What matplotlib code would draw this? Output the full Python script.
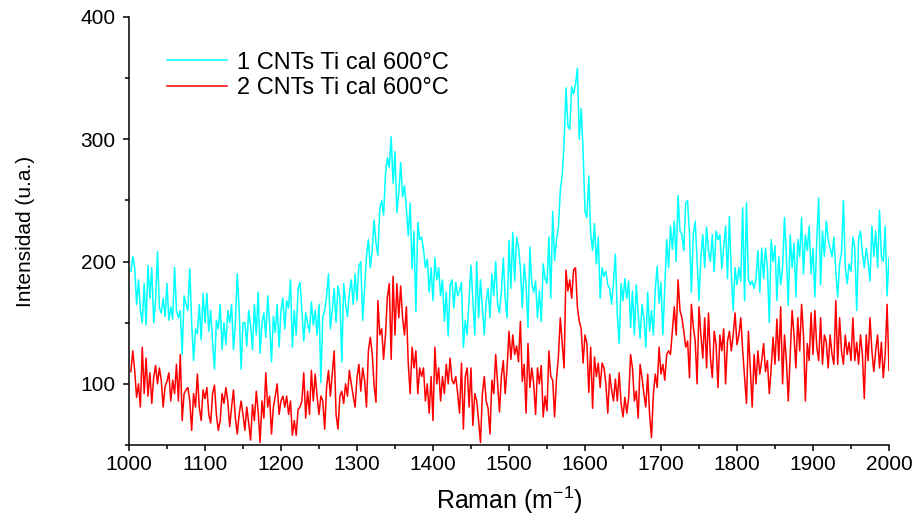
import matplotlib
matplotlib.use("Agg")
import matplotlib.pyplot as plt
from matplotlib import font_manager
from matplotlib.ticker import MultipleLocator
import numpy as np

# intensities, one value every 2.5 cm-1 from 1002.5 to 2000
cnt1 = [
    192, 204, 195, 165, 185, 160, 150, 182, 148, 197, 170, 195, 150, 168, 208, 162, 158, 170, 155, 182,
    152, 163, 153, 195, 160, 154, 160, 124, 172, 165, 160, 194, 150, 119, 145, 141, 165, 136, 174, 150,
    174, 143, 160, 134, 112, 152, 145, 165, 128, 150, 132, 160, 150, 165, 128, 150, 190, 160, 112, 150,
    150, 131, 160, 148, 128, 165, 140, 175, 125, 150, 158, 138, 172, 150, 118, 155, 142, 165, 130, 160,
    170, 145, 168, 162, 185, 130, 160, 140, 178, 183, 160, 135, 158, 150, 142, 167, 148, 160, 140, 165,
    101, 155, 160, 172, 190, 145, 160, 178, 150, 180, 170, 118, 182, 165, 155, 175, 185, 165, 190, 168,
    196, 200, 152, 178, 204, 218, 195, 209, 234, 215, 205, 243, 250, 238, 271, 285, 277, 302, 264, 290,
    240, 256, 281, 253, 262, 243, 221, 248, 194, 225, 159, 232, 218, 220, 210, 195, 202, 175, 195, 168,
    203, 185, 195, 172, 185, 151, 175, 139, 180, 185, 162, 183, 172, 176, 183, 130, 152, 140, 170, 197,
    168, 140, 200, 154, 185, 163, 140, 168, 178, 154, 190, 172, 200, 165, 158, 176, 203, 170, 154, 217,
    178, 224, 184, 220, 212, 195, 162, 198, 180, 146, 212, 182, 175, 184, 154, 176, 151, 198, 186, 182,
    220, 170, 241, 201, 218, 228, 258, 270, 297, 342, 311, 308, 343, 337, 345, 358, 300, 325, 291, 241,
    236, 270, 223, 209, 231, 198, 220, 170, 195, 188, 192, 181, 178, 165, 183, 206, 157, 133, 182, 168,
    186, 170, 184, 146, 176, 140, 181, 157, 137, 165, 154, 130, 175, 143, 160, 140, 178, 196, 166, 183,
    140, 178, 218, 195, 229, 210, 233, 200, 254, 225, 222, 209, 248, 250, 222, 175, 222, 233, 200, 168,
    204, 222, 195, 228, 209, 200, 222, 192, 225, 218, 222, 194, 212, 229, 186, 237, 190, 160, 195, 181,
    195, 184, 244, 168, 248, 186, 181, 184, 178, 186, 209, 175, 211, 186, 211, 195, 150, 218, 200, 213,
    168, 204, 181, 195, 236, 204, 164, 222, 195, 215, 171, 218, 204, 236, 190, 222, 209, 229, 190, 211,
    171, 218, 252, 181, 225, 204, 233, 218, 211, 204, 220, 192, 171, 198, 207, 250, 195, 182, 198, 192,
    220, 211, 160, 218, 225, 207, 195, 211, 200, 184, 229, 204, 225, 195, 242, 204, 200, 229, 172, 203,
]

cnt2 = [
    110, 127, 111, 89, 100, 81, 130, 92, 121, 90, 109, 84, 105, 115, 100, 113, 103, 81, 98, 102,
    109, 86, 103, 92, 116, 86, 124, 70, 92, 95, 97, 86, 62, 92, 81, 108, 81, 70, 95, 88,
    97, 75, 68, 92, 99, 75, 62, 70, 92, 84, 97, 86, 65, 81, 95, 72, 59, 75, 86, 75,
    62, 81, 68, 54, 83, 70, 94, 77, 52, 86, 72, 109, 81, 90, 59, 81, 90, 100, 75, 86,
    90, 81, 90, 75, 86, 58, 70, 58, 79, 81, 86, 109, 72, 94, 75, 111, 86, 108, 90, 75,
    90, 86, 63, 97, 111, 90, 108, 127, 75, 63, 90, 94, 84, 100, 90, 111, 100, 90, 81, 105,
    116, 94, 113, 103, 81, 127, 138, 125, 99, 85, 168, 140, 145, 120, 140, 171, 182, 120, 188, 140,
    182, 154, 180, 154, 140, 163, 116, 92, 130, 113, 127, 92, 113, 106, 113, 86, 100, 76, 106, 70,
    130, 100, 113, 86, 106, 92, 116, 100, 121, 103, 100, 106, 92, 76, 117, 63, 106, 113, 81, 113,
    66, 92, 86, 70, 52, 92, 106, 86, 80, 59, 103, 92, 124, 100, 77, 106, 119, 92, 113, 143,
    120, 140, 124, 131, 118, 151, 102, 116, 76, 133, 97, 113, 100, 75, 113, 100, 115, 73, 90, 78,
    127, 106, 103, 73, 104, 122, 154, 133, 113, 193, 176, 185, 170, 193, 195, 163, 151, 145, 117, 140,
    133, 93, 130, 80, 122, 106, 117, 97, 117, 113, 100, 76, 108, 95, 86, 104, 86, 109, 84, 73,
    89, 76, 89, 124, 113, 86, 94, 72, 116, 105, 92, 81, 108, 75, 56, 92, 108, 97, 130, 108,
    116, 103, 124, 127, 124, 143, 163, 140, 185, 160, 154, 143, 130, 135, 105, 165, 147, 135, 100, 163,
    140, 121, 154, 113, 158, 122, 105, 143, 132, 97, 140, 127, 145, 100, 135, 143, 127, 140, 158, 132,
    140, 154, 127, 105, 84, 143, 113, 81, 124, 100, 127, 108, 119, 133, 110, 119, 92, 113, 138, 116,
    153, 119, 163, 100, 140, 119, 86, 124, 160, 140, 113, 154, 127, 165, 140, 86, 133, 119, 158, 124,
    160, 130, 119, 154, 116, 140, 134, 113, 140, 124, 116, 168, 116, 154, 127, 116, 140, 124, 134, 119,
    154, 119, 134, 116, 140, 124, 88, 140, 119, 154, 127, 110, 127, 140, 113, 134, 105, 124, 165, 111,
]

labels = ["1 CNTs Ti cal 600°C", "2 CNTs Ti cal 600°C"]
x_start = 1002.5
x_step = 2.5


def has_font(name):
    try:
        font_manager.findfont(font_manager.FontProperties(family=name),
                              fallback_to_default=False)
        return True
    except ValueError:
        return False


main_font = "Liberation Sans"
narrow_font = "Liberation Sans Narrow" if has_font("Liberation Sans Narrow") else main_font
ylab_size = 17 if narrow_font != main_font else 15

plt.rcParams["font.family"] = [main_font, "DejaVu Sans"]
plt.rcParams["mathtext.default"] = "regular"

x1 = x_start + x_step * np.arange(len(cnt1))
x2 = x_start + x_step * np.arange(len(cnt2))

fig = plt.figure(figsize=(9.18, 5.16), dpi=100)
ax = fig.add_axes([0.1405, 0.1376, 0.8279, 0.8295])

ax.plot(x1, cnt1, color="#00FFFF", lw=1.1, label=labels[0])
ax.plot(x2, cnt2, color="#FF0000", lw=1.1, label=labels[1])

ax.set_xlim(1000, 2000)
ax.set_ylim(50, 400)
ax.xaxis.set_major_locator(MultipleLocator(100))
ax.xaxis.set_minor_locator(MultipleLocator(50))
ax.yaxis.set_major_locator(MultipleLocator(100))
ax.yaxis.set_minor_locator(MultipleLocator(50))

for side in ["top", "right"]:
    ax.spines[side].set_visible(False)
for side in ["left", "bottom"]:
    ax.spines[side].set_linewidth(1.1)

ax.tick_params(which="major", direction="out", length=4.5, width=1.1,
               labelsize=15, colors="black")
ax.tick_params(which="minor", direction="out", length=2.6, width=1.1)
ax.tick_params(axis="x", pad=3.0)
ax.tick_params(axis="y", pad=5.0)

ax.set_xlabel("Raman (m$^{-1}$)", fontsize=18)
ax.xaxis.set_label_coords(0.5, -0.092)
ax.set_ylabel("Intensidad (u.a.)", fontsize=ylab_size, family=[narrow_font, "DejaVu Sans"])
ax.yaxis.set_label_coords(-0.123, 0.5)

leg = ax.legend(loc="upper left", bbox_to_anchor=(0.05, 0.919), frameon=False,
                fontsize=17, handlelength=2.55, handletextpad=0.4,
                labelspacing=0.14, borderpad=0, borderaxespad=0)

fig.savefig("out.png", dpi=100)
